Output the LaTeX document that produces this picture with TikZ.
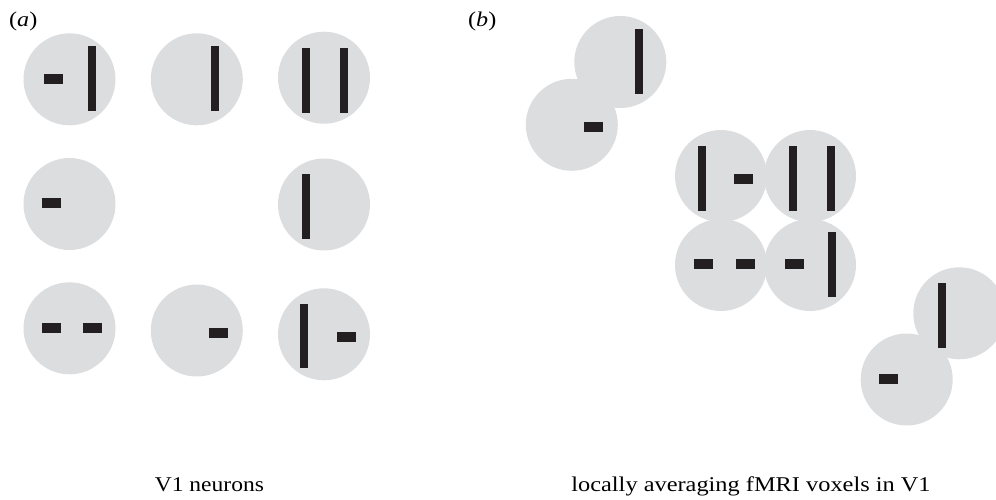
\documentclass[tikz,border=0pt]{standalone}
\usepackage{fontspec}
\setmainfont{Liberation Serif}
\definecolor{rfcol}{HTML}{DCDDDF}
\definecolor{barcol}{HTML}{231F20}
\tikzset{
  rf/.style={fill=rfcol},
  bar/.style={fill=barcol},
  lab/.style={inner sep=0pt, font=\fontsize{21}{25}\selectfont},
}
\newcommand{\vbarx}[2]{\fill[bar] (#1,#2) rectangle ++(8,64.7);}
\newcommand{\hbarx}[2]{\fill[bar] (#1,#2) rectangle ++(19,9.7);}
\newcommand{\rfc}[2]{\fill[rf] (#1,#2) circle (46);}
\begin{document}
\begin{tikzpicture}[x=1pt,y=-1pt]
\useasboundingbox (0,0) rectangle (996,499);
\clip (0,0) rectangle (996,499);
% panel (a) receptive fields
\rfc{69.5}{79.3}
\rfc{196.8}{79.3}
\rfc{324}{77.7}
\rfc{69.5}{204}
\rfc{324}{204.5}
\rfc{69.5}{328.3}
\rfc{196.8}{330.5}
\rfc{324}{334.3}
% panel (b) receptive fields
\rfc{620.3}{62}
\rfc{571.8}{124.8}
\rfc{721}{176}
\rfc{810}{176}
\rfc{721}{265}
\rfc{810}{265}
\rfc{959.3}{313.3}
\rfc{906.7}{379.5}
% bars (a)
\hbarx{44}{74}\vbarx{88}{46}
\vbarx{211}{46}
\vbarx{302}{48}\vbarx{340}{48}
\hbarx{42}{198}
\vbarx{302}{174}
\hbarx{42}{323}\hbarx{83}{323}
\hbarx{209}{328}
\vbarx{300}{303.7}\hbarx{337}{332}
% bars (b)
\vbarx{635}{29}
\hbarx{584}{122}
\vbarx{698.3}{146}\hbarx{734}{174.3}
\vbarx{789}{146}\vbarx{827}{146}
\hbarx{694}{259}\hbarx{736}{259}
\hbarx{785}{259}\vbarx{828}{232}
\vbarx{938}{283}
\hbarx{879}{374}
% labels
\node[lab, anchor=base west] (la) at (9,26.5) {\scalebox{1.15}[1]{(\textit{a})}};
\node[lab, anchor=base west] (lb) at (468,26.5) {\scalebox{1.15}[1]{(\textit{b})}};
\node[lab, anchor=base] (ca) at (209.4,491.5) {\scalebox{1.12}[1]{V1 neurons}};
\node[lab, anchor=base] (cb) at (751,491.5) {\scalebox{1.16}[1]{locally averaging fMRI voxels in V1}};
\end{tikzpicture}
\end{document}
